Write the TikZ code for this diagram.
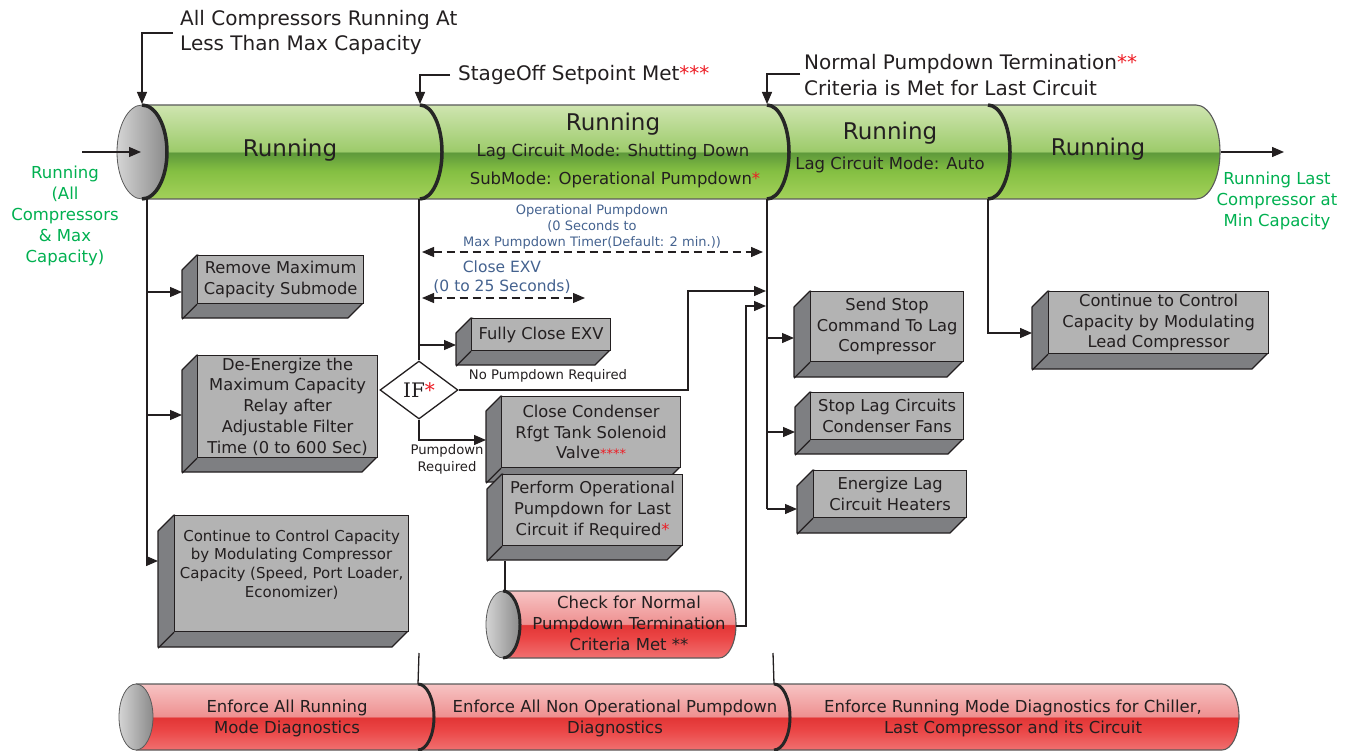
\documentclass[tikz,border=0pt]{standalone}
\usepackage{fontspec}
\setmainfont{DejaVu Sans}
\newfontfamily\iffont{DejaVu Serif}
\usetikzlibrary{arrows.meta,shapes.geometric}
\definecolor{ink}{HTML}{231F20}
\definecolor{astred}{HTML}{ED1C24}
\definecolor{grntxt}{HTML}{00B050}
\definecolor{dimblue}{HTML}{44628F}
\definecolor{frontcol}{HTML}{B3B3B3}
\definecolor{sidecol}{HTML}{7E7F82}
\definecolor{cylline}{HTML}{5A5A5A}
\definecolor{gTop}{HTML}{CFE5B0}
\definecolor{gMidL}{HTML}{9DCB6B}
\definecolor{gMidD}{HTML}{5E993B}
\definecolor{gLow}{HTML}{84BF42}
\definecolor{gBot}{HTML}{A3D15A}
\definecolor{rTop}{HTML}{F7C4C4}
\definecolor{rMidL}{HTML}{EE9090}
\definecolor{rMidD}{HTML}{E23535}
\definecolor{rLow}{HTML}{EB4646}
\definecolor{rBot}{HTML}{F07070}
\definecolor{capL}{HTML}{D4D4D4}
\definecolor{capR}{HTML}{8A8A8A}
\pgfdeclareverticalshading{greencyl}{100bp}{color(0bp)=(gBot); color(25bp)=(gBot); color(40bp)=(gLow); color(49.6bp)=(gMidD); color(50.4bp)=(gMidL); color(75bp)=(gTop); color(100bp)=(gTop)}
\pgfdeclareverticalshading{redcyl}{100bp}{color(0bp)=(rBot); color(25bp)=(rBot); color(40bp)=(rLow); color(49.6bp)=(rMidD); color(50.4bp)=(rMidL); color(75bp)=(rTop); color(100bp)=(rTop)}
\tikzset{
  arr/.style={draw=ink, line width=1.3pt, -{Triangle[length=12pt,width=10pt]}},
  ln/.style={draw=ink, line width=1.3pt},
  dimarr/.style={draw=ink, line width=1.3pt, dash pattern=on 8pt off 5pt, {Triangle[length=12pt,width=10pt]}-{Triangle[length=12pt,width=10pt]}},
  hdr/.style={font=\fontsize{20}{25.5}\selectfont, text=ink, align=left, inner sep=0pt, anchor=west},
  big/.style={font=\fontsize{23}{28}\selectfont, text=ink, inner sep=0pt},
  mid/.style={font=\fontsize{16.5}{21}\selectfont, text=ink, inner sep=0pt, align=center},
  note/.style={font=\fontsize{13.2}{17}\selectfont, text=ink, inner sep=0pt, align=center},
  dimtxt/.style={font=\fontsize{13}{16}\selectfont, text=dimblue, inner sep=0pt, align=center},
  dimtxtb/.style={font=\fontsize{15.5}{18.5}\selectfont, text=dimblue, inner sep=0pt, align=center},
  grn/.style={font=\fontsize{16.5}{21}\selectfont, text=grntxt, inner sep=0pt, align=center},
  boxfront/.style={draw=ink, line width=1.2pt, fill=frontcol, inner sep=0pt, align=center, text=ink, font=\fontsize{16.3}{20.8}\selectfont},
  boxside/.style={draw=ink, line width=1.2pt, fill=sidecol, line join=round},
  boxedge/.style={draw=ink, line width=1.2pt},
  cylbody/.style={draw=cylline, line width=1.1pt},
  capst/.style={draw=cylline, line width=0.8pt, left color=capL, right color=capR},
  divider/.style={draw=black!85, line width=3.5pt},
  ifnode/.style={diamond, draw=ink, line width=1.3pt, fill=white, minimum width=78pt, minimum height=58pt, inner sep=0pt, font=\iffont\fontsize{20}{20}\selectfont, text=ink}
}
% #1 name, #2 x1, #3 y1, #4 x2, #5 y2 (front face), #6 depth, #7 text
\newcommand\drawbox[7]{%
  \filldraw[boxside] (#2,#3) -- ({#2-#6},{#3+#6}) -- ({#2-#6},{#5+#6}) -- ({#4-#6},{#5+#6}) -- (#4,#5) -- cycle;
  \node[boxfront, minimum width={(#4-#2)*1pt}, minimum height={(#5-#3)*1pt}, anchor=north west] (#1) at (#2,#3) {#7};
  \draw[boxedge] (#1.south west) -- ++({-#6},{#6});
  \coordinate (#1-side) at ({#2-#6},{#5});
}
\begin{document}
\begin{tikzpicture}[x=1pt,y=-1pt]
\useasboundingbox (0,0) rectangle (1351,751);

% ---------- top green cylinder ----------
\shade[shading=greencyl] (142,105) -- (1196,105) arc[start angle=-90,end angle=90,x radius=24,y radius=47] -- (142,199) -- cycle;
\draw[cylbody] (142,105) -- (1196,105) arc[start angle=-90,end angle=90,x radius=24,y radius=47] -- (142,199);
\draw[capst] (142,152) ellipse[x radius=25, y radius=47];
\draw[divider] (142,105) arc[start angle=-90,end angle=90,x radius=25,y radius=47];
\draw[divider] (420,105) arc[start angle=-90,end angle=90,x radius=22,y radius=47];
\draw[divider] (767,105) arc[start angle=-90,end angle=90,x radius=22,y radius=47];
\draw[divider] (988,105) arc[start angle=-90,end angle=90,x radius=22,y radius=47];

\coordinate (s1t) at (142,104); \coordinate (s2t) at (420,104);
\coordinate (s3t) at (767,104); \coordinate (s4t) at (988,104);
\coordinate (s1b) at (147,199); \coordinate (s2b) at (419,199);
\coordinate (s3b) at (767,199); \coordinate (s4b) at (988,199);
\coordinate (capc) at (141,152);
\coordinate (inL) at (82,152);
\coordinate (endR) at (1221,152);
\coordinate (outR) at (1284,152);

\node[big] (r1) at (290,150) {Running};
\node[big] (r2) at (613,124) {Running};
\node[mid] (r2a) at (613,152) {Lag Circuit Mode: Shutting Down};
\node[mid] (r2b) at (615,180) {SubMode: Operational Pumpdown\textcolor{astred}{*}};
\node[big] (r3) at (890,133) {Running};
\node[mid] (r3a) at (890,165) {Lag Circuit Mode: Auto};
\node[big] (r4) at (1098,149) {Running};

% side labels
\draw[arr] (inL) -- (capc);
\node[grn] (gl) at (65,216) {Running\\(All\\Compressors\\\& Max\\Capacity)};
\draw[arr] (endR) -- (outR);
\node[grn] (gr) at (1277,200.5) {Running Last\\Compressor at\\Min Capacity};

% headers
\node[hdr] (h1) at (180,32.5) {All Compressors Running At\\Less Than Max Capacity};
\node[hdr] (h2) at (458,75) {StageOff Setpoint Met\textcolor{astred}{***}};
\node[hdr] (h3) at (804,75) {Normal Pumpdown Termination\textcolor{astred}{**}\\Criteria is Met for Last Circuit};
\draw[arr] ([xshift=-7pt,yshift=-0.5pt]h1.west) -| (s1t);
\draw[arr] ([xshift=-8pt]h2.west) -| (s2t);
\draw[arr] ([xshift=-4pt,yshift=1pt]h3.west) -| (s3t);

% ---------- left column ----------
\drawbox{rm}{197}{255}{363}{303}{15}{Remove Maximum\\Capacity Submode}
\drawbox{de}{197}{355}{377}{457}{15}{De-Energize the\\Maximum Capacity\\Relay after\\Adjustable Filter\\Time (0 to 600 Sec)}
\drawbox{cc}{174}{515}{408}{631}{16}{}
\node[boxfront, draw=none, fill=none, font=\fontsize{15}{18.8}\selectfont] (cct) at ([yshift=9pt]cc.center) {Continue to Control Capacity\\by Modulating Compressor\\Capacity (Speed, Port Loader,\\Economizer)};

\coordinate (b11) at (147,292);
\coordinate (b12) at (147,415);
\coordinate (b13) at (147,561);
\draw[ln] (s1b) -- (b13);
\draw[arr] (b11) -- (b11 -| rm-side);
\draw[arr] (b12) -- (b12 -| de-side);
\draw[arr] (b13) -- (b13 -| cc-side);

% ---------- middle column ----------
\drawbox{fc}{471}{318}{610}{350}{15}{Fully Close EXV}
\node[note] (npr) at (548,376) {No Pumpdown Required};
\node[ifnode] (if) at (419,390) {IF\textcolor{astred}{*}};
\drawbox{cv}{501}{396}{680}{467}{15}{Close Condenser\\Rfgt Tank Solenoid\\Valve\textcolor{astred}{\fontsize{13}{13}\selectfont ****}}
\drawbox{pf}{502}{474}{682}{545}{15}{Perform Operational\\Pumpdown for Last\\Circuit if Required\textcolor{astred}{*}}
\node[note] (pr) at (447,459.5) {Pumpdown\\Required};

\coordinate (b21) at (419,345);
\coordinate (b22) at (419,440);
\coordinate (k1) at (688,291);
\coordinate (k2) at (766,291);
\draw[ln] (s2b) -- (if.north);
\draw[arr] (b21) -- (b21 -| fc-side);
\draw[arr] (if.south) -- (b22) -- (b22 -| cv-side);
\draw[arr] (if.east) -| (k1) -- (k2);

% dimension arrows
\coordinate (p1) at (422,252); \coordinate (p2) at (763,252);
\coordinate (p3) at (422,298); \coordinate (p4) at (585,298);
\draw[dimarr] (p1) -- (p2);
\draw[dimarr] (p3) -- (p4);
\node[dimtxt] (opd) at (592,227) {Operational Pumpdown\\(0 Seconds to\\Max Pumpdown Timer(Default: 2 min.))};
\node[dimtxtb] (cex) at (502,277) {Close EXV\\(0 to 25 Seconds)};

% small red cylinder
\shade[shading=redcyl] (503,591) -- (719,591) arc[start angle=-90,end angle=90,x radius=17,y radius=33.5] -- (503,658) -- cycle;
\draw[cylbody] (503,591) -- (719,591) arc[start angle=-90,end angle=90,x radius=17,y radius=33.5] -- (503,658);
\draw[capst] (503,624.5) ellipse[x radius=17, y radius=33.5];
\draw[divider, line width=3pt] (503,591) arc[start angle=-90,end angle=90,x radius=17,y radius=33.5];
\node[mid] (chk) at (629,623.5) {Check for Normal\\Pumpdown Termination\\Criteria Met \textcolor{ink}{**}};
\coordinate (pfb) at (505,561);
\coordinate (chkt) at (505,591);
\coordinate (chkR) at (736,626);
\coordinate (k3) at (746,626);
\coordinate (k4) at (766,306);
\draw[ln] (pfb) -- (chkt);
\draw[arr] (chkR) -- (k3) |- (k4);

% ---------- right columns ----------
\drawbox{ss}{810}{291}{963}{361}{16}{Send Stop\\Command To Lag\\Compressor}
\drawbox{sl}{810}{392}{963}{439}{15}{Stop Lag Circuits\\Condenser Fans}
\drawbox{en}{813}{470}{966}{517}{16}{Energize Lag\\Circuit Heaters}
\drawbox{lc}{1048}{291}{1268}{353}{16}{Continue to Control\\Capacity by Modulating\\Lead Compressor}

\coordinate (b31) at (767,338);
\coordinate (b32) at (767,432);
\coordinate (b33) at (767,509);
\coordinate (b41) at (988,333);
\draw[ln] (s3b) -- (b33);
\draw[arr] (b31) -- (b31 -| ss-side);
\draw[arr] (b32) -- (b32 -| sl-side);
\draw[arr] (b33) -- (b33 -| en-side);
\draw[arr] (s4b) -- (b41) -- (b41 -| lc-side);

% ---------- bottom red cylinder ----------
\shade[shading=redcyl] (136,684) -- (1222,684) arc[start angle=-90,end angle=90,x radius=17,y radius=33] -- (136,750) -- cycle;
\draw[cylbody] (136,684) -- (1222,684) arc[start angle=-90,end angle=90,x radius=17,y radius=33] -- (136,750);
\draw[capst] (136,717) ellipse[x radius=17, y radius=33];
\draw[divider, line width=3pt] (418,684) arc[start angle=-90,end angle=90,x radius=16,y radius=33];
\draw[divider, line width=3pt] (774,684) arc[start angle=-90,end angle=90,x radius=16,y radius=33];
\coordinate (h1a) at (419,653); \coordinate (u2t) at (418,684);
\coordinate (h2a) at (773,653); \coordinate (u3t) at (774,684);
\draw[ln] (h1a) -- (u2t);
\draw[ln] (h2a) -- (u3t);
\node[mid] (e1) at (287,718) {Enforce All Running\\Mode Diagnostics};
\node[mid] (e2) at (615,718.5) {Enforce All Non Operational Pumpdown\\Diagnostics};
\node[mid] (e3) at (1013,718) {Enforce Running Mode Diagnostics for Chiller,\\Last Compressor and its Circuit};
\end{tikzpicture}
\end{document}
